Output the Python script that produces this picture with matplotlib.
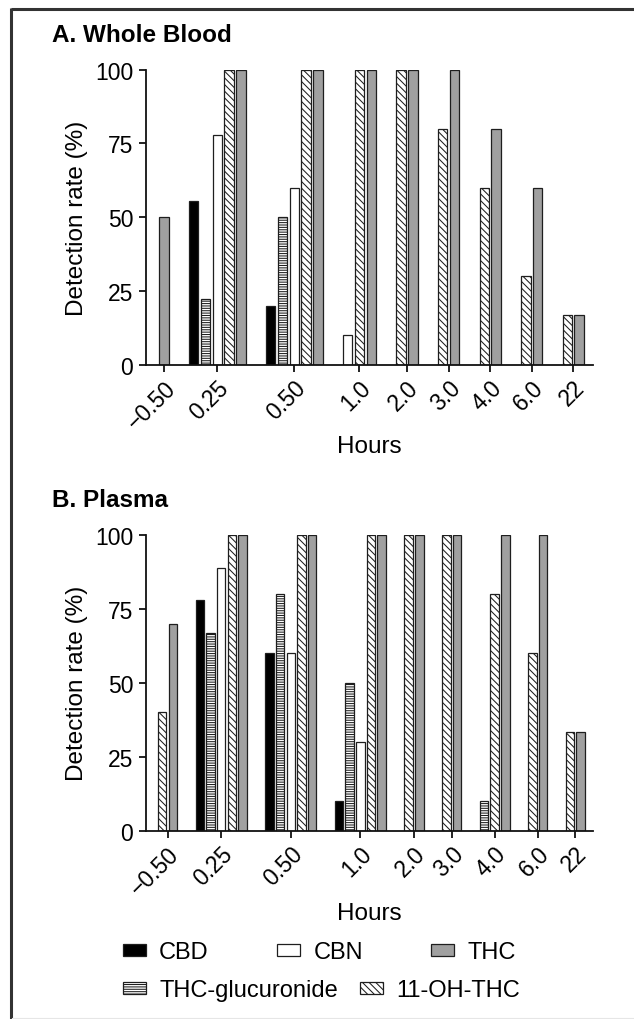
import numpy as np
import matplotlib
matplotlib.use("Agg")
import matplotlib.pyplot as plt
from matplotlib.patches import Patch
from matplotlib.lines import Line2D

plt.rcParams['font.family'] = ['Liberation Sans', 'DejaVu Sans']
plt.rcParams['hatch.linewidth'] = 0.75

# ---------------- data ----------------
hours = ['\u22120.50', '0.25', '0.50', '1.0', '2.0', '3.0', '4.0', '6.0', '22']
series = ['CBD', 'THC-glucuronide', 'CBN', '11-OH-THC', 'THC']
nan = np.nan

# A. Whole Blood (nan = not detected / no bar)
wb_cbd = [nan, 55.6, 20, nan, nan, nan, nan, nan, nan]
wb_gluc = [nan, 22.2, 50, nan, nan, nan, nan, nan, nan]
wb_cbn = [nan, 77.8, 60, 10, nan, nan, nan, nan, nan]
wb_oh = [nan, 100, 100, 100, 100, 80, 60, 30, 16.7]
wb_thc = [50, 100, 100, 100, 100, 100, 80, 60, 16.7]

# B. Plasma
pl_cbd = [nan, 77.8, 60, 10, nan, nan, nan, nan, nan]
pl_gluc = [nan, 66.7, 80, 50, nan, nan, 10, nan, nan]
pl_cbn = [nan, 88.9, 60, 30, nan, nan, nan, nan, nan]
pl_oh = [40, 100, 100, 100, 100, 100, 80, 60, 33.3]
pl_thc = [70, 100, 100, 100, 100, 100, 100, 100, 33.3]

yticks = [0, 25, 50, 75, 100]

# ---------------- styles ----------------
EDGE = '#1e1e1e'
styles = {
    'CBD': dict(facecolor='black', hatch=None),
    'THC-glucuronide': dict(facecolor='white', hatch='-------'),
    'CBN': dict(facecolor='white', hatch=None),
    '11-OH-THC': dict(facecolor='white', hatch='\\\\\\\\\\'),
    'THC': dict(facecolor='#a0a0a0', hatch=None),
}
GAP = 1.53
FS = 17.5
TFS = 16.5

W, H = 634, 1020
fig = plt.figure(figsize=(W / 100, H / 100), dpi=100)


def fx(px):
    return px / W


def fy(py):
    return 1 - py / H


AX_L, AX_R = 145.7, 593.0


def panel(top_px, bottom_px, title, data):
    ax = fig.add_axes([fx(AX_L), fy(bottom_px), fx(AX_R - AX_L), (bottom_px - top_px) / H])
    arr = np.array(data, dtype=float)  # series x hours
    present = ~np.isnan(arr)
    counts = present.sum(axis=0)
    centers = []
    pos = 0.0
    for i, n in enumerate(counts):
        if i > 0:
            pos += GAP + (counts[i - 1] + n) / 2.0
        centers.append(pos)
    xs = {s: [] for s in series}
    hs = {s: [] for s in series}
    for i, c in enumerate(centers):
        idx = [k for k in range(len(series)) if present[k, i]]
        for j, k in enumerate(idx):
            xs[series[k]].append(c - (len(idx) - 1) / 2.0 + j)
            hs[series[k]].append(arr[k, i])
    for s in series:
        st = styles[s]
        ax.bar(xs[s], hs[s], width=0.8, color=st['facecolor'], edgecolor=EDGE,
               hatch=st['hatch'], linewidth=0.9, zorder=2)
    ax.set_xlim(centers[0] - counts[0] / 2.0 - 1.05, centers[-1] + counts[-1] / 2.0 + 0.67)
    ax.set_ylim(0, 100)
    ax.set_yticks(yticks)
    ax.set_xticks(centers)
    ax.set_xticklabels(hours, rotation=45, ha='right', va='top', rotation_mode='anchor')
    for sp in ['top', 'right']:
        ax.spines[sp].set_visible(False)
    for sp in ['left', 'bottom']:
        ax.spines[sp].set_linewidth(1.3)
        ax.spines[sp].set_color('#111111')
    ax.tick_params(axis='both', length=5, width=1.3, color='#111111', labelsize=TFS)
    ax.tick_params(axis='y', pad=4)
    ax.tick_params(axis='x', pad=3)
    ax.set_ylabel('Detection rate (%)', fontsize=FS)
    ax.yaxis.set_label_coords(-0.13, 0.5)
    ax.set_xlabel('Hours', fontsize=FS, va='baseline')
    ax.xaxis.set_label_coords(0.5, -(453.3 - 365.7) / 295.0)
    fig.text(fx(52), fy(top_px - 28.7), title, fontsize=17.5, fontweight='bold',
             ha='left', va='baseline')
    return ax


axA = panel(70.7, 365.7, 'A. Whole Blood', [wb_cbd, wb_gluc, wb_cbn, wb_oh, wb_thc])
axB = panel(535.7, 831.7, 'B. Plasma', [pl_cbd, pl_gluc, pl_cbn, pl_oh, pl_thc])

# ---------------- legend ----------------
def handle(s):
    st = styles[s]
    return Patch(facecolor=st['facecolor'], edgecolor=EDGE, hatch=st['hatch'], linewidth=0.9)


LFS = 17
common = dict(frameon=False, fontsize=LFS, handlelength=0.98, handleheight=0.4,
              handletextpad=0.55, borderpad=0, borderaxespad=0, loc='center left')
row1 = ['CBD', 'CBN', 'THC']
row2 = ['THC-glucuronide', '11-OH-THC']
leg1 = fig.legend([handle(s) for s in row1], row1, ncol=3, columnspacing=2.9,
                  bbox_to_anchor=(fx(123), fy(953)), **common)
leg2 = fig.legend([handle(s) for s in row2], row2, ncol=2, columnspacing=0.95,
                  bbox_to_anchor=(fx(123), fy(991)), **common)

# ---------------- frame ----------------
fig.add_artist(Line2D([fx(10.5), 1.0], [fy(10), fy(10)], color='#333333', lw=2.2,
                      transform=fig.transFigure, solid_capstyle='butt'))
fig.add_artist(Line2D([fx(10.5), fx(10.5)], [fy(9), 0.0], color='#333333', lw=2.2,
                      transform=fig.transFigure, solid_capstyle='butt'))
fig.add_artist(Line2D([fx(12), 1.0], [fy(1019), fy(1019)], color='#e6e6e6', lw=0.8,
                      transform=fig.transFigure))

fig.savefig('out.png', dpi=100)
